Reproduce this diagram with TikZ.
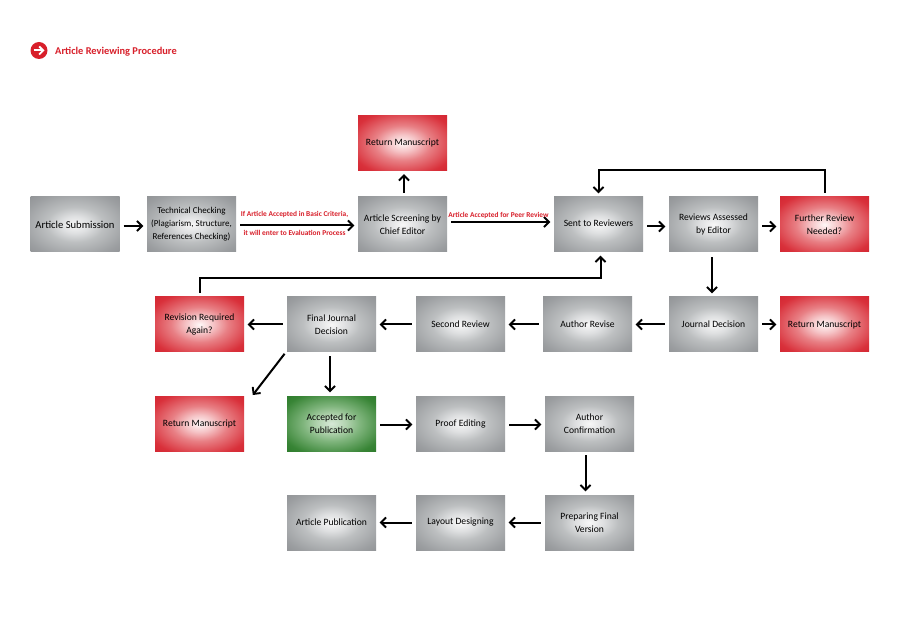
\documentclass[tikz,border=0pt]{standalone}
\usepackage{fontspec}
\setmainfont{Carlito}
\usetikzlibrary{arrows.meta,calc}
\definecolor{redtxt}{HTML}{D81F2A}
\pgfdeclareradialshading{glowgray}{\pgfpoint{0bp}{0bp}}{rgb(0bp)=(0.97,0.97,0.97); rgb(8bp)=(0.87,0.875,0.88); rgb(16bp)=(0.74,0.75,0.755); rgb(30bp)=(0.61,0.62,0.63); rgb(44bp)=(0.52,0.53,0.54); rgb(100bp)=(0.52,0.53,0.54)}
\pgfdeclareradialshading{glowred}{\pgfpoint{0bp}{0bp}}{rgb(0bp)=(1,0.97,0.97); rgb(8bp)=(0.96,0.76,0.77); rgb(16bp)=(0.91,0.50,0.52); rgb(30bp)=(0.85,0.19,0.23); rgb(44bp)=(0.80,0.10,0.15); rgb(100bp)=(0.80,0.10,0.15)}
\pgfdeclareradialshading{glowgreen}{\pgfpoint{0bp}{0bp}}{rgb(0bp)=(0.84,0.91,0.84); rgb(8bp)=(0.70,0.83,0.69); rgb(16bp)=(0.50,0.71,0.49); rgb(30bp)=(0.22,0.52,0.21); rgb(44bp)=(0.13,0.44,0.13); rgb(100bp)=(0.13,0.44,0.13)}
\tikzset{
  box/.style={minimum width=89pt,minimum height=55pt,inner sep=0pt,align=center,font=\fontsize{9.6}{12.8}\selectfont,text=black},
  graybox/.style={box,shading=glowgray},
  redbox/.style={box,shading=glowred},
  greenbox/.style={box,shading=glowgreen},
  conn/.style={-{Straight Barb[length=5pt,width=10pt,line width=1.9pt]},line width=2pt,black,shorten >=3.5pt,shorten <=4pt},
  redlabel/.style={text=redtxt,font=\fontsize{7.4}{9}\selectfont\bfseries,inner sep=0pt},
}
\begin{document}
\begin{tikzpicture}[x=1pt,y=-1pt]
\useasboundingbox (0,0) rectangle (900,636);
\fill[white] (0,0) rectangle (900,636);
% title
\node[circle,fill=redtxt,minimum size=17pt,inner sep=0pt] (bullet) at (39,50.5) {};
\coordinate (bulletL) at (33.5,50.5);
\coordinate (bulletR) at (44.5,50.5);
\draw[white,line width=2pt,-{Straight Barb[length=4pt,width=8pt,line width=1.8pt]}] (bulletL) -- (bulletR);
\node[anchor=west,text=redtxt,font=\fontsize{10.4}{12}\selectfont\bfseries,inner sep=0pt] (title) at (55,51.5) {Article Reviewing Procedure};
% row 1
\node[graybox,font=\fontsize{10.6}{12.6}\selectfont] (sub) at (75,224.5) {Article Submission};
\node[graybox,font=\fontsize{9}{13}\selectfont] (tech) at (191.5,224.5) {Technical Checking\\(Plagiarism, Structure,\\References Checking)};
\node[graybox] (scr) at (402.5,224.5) {Article Screening by\\Chief Editor};
\node[redbox] (rettop) at (402.5,143) {Return Manuscript};
\node[graybox] (sent) at (598.5,224.5) {\raisebox{3pt}{Sent to Reviewers}};
\node[graybox] (assess) at (713.5,224.5) {Reviews Assessed\\by Editor};
\node[redbox] (further) at (824.5,224.5) {Further Review\\Needed?};
% row 2
\node[redbox] (again) at (199.5,324.5) {Revision Required\\Again?};
\node[graybox] (final) at (331.5,324.5) {Final Journal\\Decision};
\node[graybox] (second) at (460.5,324.5) {Second Review};
\node[graybox] (revise) at (587.5,324.5) {Author Revise};
\node[graybox] (jd) at (713.5,324.5) {Journal Decision};
\node[redbox] (retjd) at (824.5,324.5) {Return Manuscript};
% row 3
\node[redbox] (retfin) at (199.5,423.5) {Return Manuscript};
\node[greenbox] (acc) at (331.5,423.5) {Accepted for\\Publication};
\node[graybox] (proof) at (460.5,423.5) {Proof Editing};
\node[graybox] (conf) at (589.5,423.5) {Author\\Confirmation};
% row 4
\node[graybox] (pub) at (331.5,522.5) {Article Publication};
\node[graybox] (layout) at (460.5,522.5) {Layout Designing};
\node[graybox] (prep) at (589.5,522.5) {Preparing Final\\Version};
% connectors
\draw[conn] ([yshift=-1.5pt]sub.east) -- ([yshift=-1.5pt]tech.west);
\draw[conn] ([yshift=-1pt]tech.east) -- ([yshift=-1pt]scr.west);
\draw[conn] ([xshift=1.5pt]scr.north) -- ([xshift=1.5pt]rettop.south);
\draw[conn] ([yshift=2.5pt]scr.east) -- ([yshift=2.5pt]sent.west);
\draw[conn] ([yshift=-2pt]sent.east) -- ([yshift=-2pt]assess.west);
\draw[conn] ([yshift=-2pt]assess.east) -- ([yshift=-2pt]further.west);
\draw[conn] (further.north) -- ++(0,-27) -| (sent.north);
\draw[conn,shorten <=5pt] ([xshift=-1.5pt]assess.south) -- ([xshift=-1.5pt]jd.north);
\draw[conn] (jd.east) -- (retjd.west);
\draw[conn] (jd.west) -- (revise.east);
\draw[conn] (revise.west) -- (second.east);
\draw[conn] (second.west) -- (final.east);
\draw[conn] (final.west) -- (again.east);
\draw[conn] (again.north) -- ++(0,-19) -| ([xshift=2pt]sent.south);
\draw[conn,shorten >=1pt,shorten <=2pt] ([xshift=-1pt]final.south west) -- ([xshift=8pt]retfin.north east);
\draw[conn] ([xshift=-1.5pt]final.south) -- ([xshift=-1.5pt]acc.north);
\draw[conn] ([yshift=-1pt]acc.east) -- ([yshift=-1pt]proof.west);
\draw[conn] ([yshift=-1pt]proof.east) -- ([yshift=-1pt]conf.west);
\draw[conn] ([xshift=-4pt]conf.south) -- ([xshift=-4pt]prep.north);
\draw[conn] (prep.west) -- (layout.east);
\draw[conn] (layout.west) -- (pub.east);
% labels
\node[redlabel] (lab1) at (294.5,214) {If Article Accepted in Basic Criteria,};
\node[redlabel] (lab2) at (294.5,232.5) {it will enter to Evaluation Process};
\node[redlabel] (lab3) at (498.5,215) {Article Accepted for Peer Review};
\end{tikzpicture}
\end{document}
